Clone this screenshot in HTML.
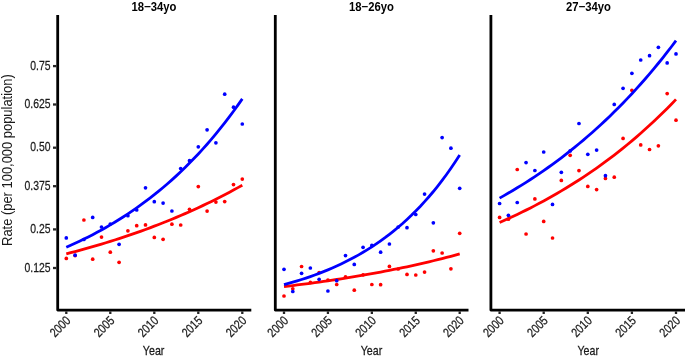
<!DOCTYPE html>
<html><head><meta charset="utf-8"><style>
html,body{margin:0;padding:0;background:#fff;width:685px;height:356px;overflow:hidden}
svg{display:block;will-change:transform}
.t{font-family:"Liberation Sans",sans-serif;font-size:12.7px;fill:#1a1a1a;stroke:#1a1a1a;stroke-width:0.25px}
.b{font-family:"Liberation Sans",sans-serif;font-size:13.2px;font-weight:bold;fill:#000}
</style></head><body>
<svg width="685" height="356" viewBox="0 0 685 356">
<path d="M57.7,15.0 V310.1 H251.3" fill="none" stroke="#000" stroke-width="2.8" stroke-linejoin="round"/>
<line x1="66.30" y1="311.40" x2="66.30" y2="314.00" stroke="#262626" stroke-width="2.3"/>
<text transform="translate(71.30,321.40) rotate(-45) scale(0.82,1)" text-anchor="end" class="t">2000</text>
<line x1="110.30" y1="311.40" x2="110.30" y2="314.00" stroke="#262626" stroke-width="2.3"/>
<text transform="translate(115.30,321.40) rotate(-45) scale(0.82,1)" text-anchor="end" class="t">2005</text>
<line x1="154.30" y1="311.40" x2="154.30" y2="314.00" stroke="#262626" stroke-width="2.3"/>
<text transform="translate(159.30,321.40) rotate(-45) scale(0.82,1)" text-anchor="end" class="t">2010</text>
<line x1="198.30" y1="311.40" x2="198.30" y2="314.00" stroke="#262626" stroke-width="2.3"/>
<text transform="translate(203.30,321.40) rotate(-45) scale(0.82,1)" text-anchor="end" class="t">2015</text>
<line x1="242.30" y1="311.40" x2="242.30" y2="314.00" stroke="#262626" stroke-width="2.3"/>
<text transform="translate(247.30,321.40) rotate(-45) scale(0.82,1)" text-anchor="end" class="t">2020</text>
<text transform="translate(154.00,10.75) scale(0.855,1)" text-anchor="middle" class="b">18<tspan style="font-weight:normal;stroke:#000;stroke-width:0.35px">−</tspan>34yo</text>
<text transform="translate(153.60,354.7) scale(0.84,1)" text-anchor="middle" class="t">Year</text>
<path d="M66.30,253.83 L70.70,252.69 L75.10,251.53 L79.50,250.34 L83.90,249.14 L88.30,247.90 L92.70,246.65 L97.10,245.36 L101.50,244.06 L105.90,242.72 L110.30,241.36 L114.70,239.98 L119.10,238.56 L123.50,237.12 L127.90,235.65 L132.30,234.15 L136.70,232.62 L141.10,231.06 L145.50,229.46 L149.90,227.84 L154.30,226.18 L158.70,224.49 L163.10,222.77 L167.50,221.01 L171.90,219.22 L176.30,217.39 L180.70,215.53 L185.10,213.63 L189.50,211.69 L193.90,209.71 L198.30,207.69 L202.70,205.64 L207.10,203.54 L211.50,201.40 L215.90,199.21 L220.30,196.99 L224.70,194.72 L229.10,192.40 L233.50,190.04 L237.90,187.63 L242.30,185.17" fill="none" stroke="#f00" stroke-width="2.8"/>
<circle cx="66.30" cy="258.40" r="1.85" fill="#f00"/>
<circle cx="75.10" cy="255.60" r="1.85" fill="#f00"/>
<circle cx="83.90" cy="220.00" r="1.85" fill="#f00"/>
<circle cx="92.70" cy="259.20" r="1.85" fill="#f00"/>
<circle cx="101.50" cy="237.10" r="1.85" fill="#f00"/>
<circle cx="110.30" cy="252.20" r="1.85" fill="#f00"/>
<circle cx="119.10" cy="262.30" r="1.85" fill="#f00"/>
<circle cx="127.90" cy="230.80" r="1.85" fill="#f00"/>
<circle cx="136.70" cy="225.70" r="1.85" fill="#f00"/>
<circle cx="145.50" cy="224.90" r="1.85" fill="#f00"/>
<circle cx="154.30" cy="237.40" r="1.85" fill="#f00"/>
<circle cx="163.10" cy="239.30" r="1.85" fill="#f00"/>
<circle cx="171.90" cy="224.20" r="1.85" fill="#f00"/>
<circle cx="180.70" cy="225.00" r="1.85" fill="#f00"/>
<circle cx="189.50" cy="209.30" r="1.85" fill="#f00"/>
<circle cx="198.30" cy="186.60" r="1.85" fill="#f00"/>
<circle cx="207.10" cy="211.10" r="1.85" fill="#f00"/>
<circle cx="215.90" cy="202.10" r="1.85" fill="#f00"/>
<circle cx="224.70" cy="201.60" r="1.85" fill="#f00"/>
<circle cx="233.50" cy="184.60" r="1.85" fill="#f00"/>
<circle cx="242.30" cy="179.10" r="1.85" fill="#f00"/>
<path d="M66.30,247.23 L70.70,245.28 L75.10,243.28 L79.50,241.21 L83.90,239.08 L88.30,236.89 L92.70,234.63 L97.10,232.30 L101.50,229.90 L105.90,227.43 L110.30,224.88 L114.70,222.25 L119.10,219.54 L123.50,216.75 L127.90,213.88 L132.30,210.92 L136.70,207.87 L141.10,204.72 L145.50,201.48 L149.90,198.14 L154.30,194.70 L158.70,191.15 L163.10,187.49 L167.50,183.73 L171.90,179.85 L176.30,175.85 L180.70,171.72 L185.10,167.48 L189.50,163.10 L193.90,158.59 L198.30,153.94 L202.70,149.15 L207.10,144.21 L211.50,139.13 L215.90,133.89 L220.30,128.48 L224.70,122.92 L229.10,117.18 L233.50,111.27 L237.90,105.18 L242.30,98.90" fill="none" stroke="#00f" stroke-width="2.8"/>
<circle cx="66.30" cy="237.90" r="1.85" fill="#00f"/>
<circle cx="75.10" cy="255.20" r="1.85" fill="#00f"/>
<circle cx="83.90" cy="239.50" r="1.85" fill="#00f"/>
<circle cx="92.70" cy="217.40" r="1.85" fill="#00f"/>
<circle cx="101.50" cy="227.00" r="1.85" fill="#00f"/>
<circle cx="110.30" cy="224.00" r="1.85" fill="#00f"/>
<circle cx="119.10" cy="244.30" r="1.85" fill="#00f"/>
<circle cx="127.90" cy="215.70" r="1.85" fill="#00f"/>
<circle cx="136.70" cy="210.00" r="1.85" fill="#00f"/>
<circle cx="145.50" cy="187.80" r="1.85" fill="#00f"/>
<circle cx="154.30" cy="201.70" r="1.85" fill="#00f"/>
<circle cx="163.10" cy="203.10" r="1.85" fill="#00f"/>
<circle cx="171.90" cy="211.00" r="1.85" fill="#00f"/>
<circle cx="180.70" cy="168.50" r="1.85" fill="#00f"/>
<circle cx="189.50" cy="160.70" r="1.85" fill="#00f"/>
<circle cx="198.30" cy="146.80" r="1.85" fill="#00f"/>
<circle cx="207.10" cy="129.80" r="1.85" fill="#00f"/>
<circle cx="215.90" cy="142.80" r="1.85" fill="#00f"/>
<circle cx="224.70" cy="94.20" r="1.85" fill="#00f"/>
<circle cx="233.50" cy="107.20" r="1.85" fill="#00f"/>
<circle cx="242.30" cy="124.00" r="1.85" fill="#00f"/>
<path d="M275.3,15.0 V310.1 H468.5" fill="none" stroke="#000" stroke-width="2.8" stroke-linejoin="round"/>
<line x1="284.00" y1="311.40" x2="284.00" y2="314.00" stroke="#262626" stroke-width="2.3"/>
<text transform="translate(289.00,321.40) rotate(-45) scale(0.82,1)" text-anchor="end" class="t">2000</text>
<line x1="327.93" y1="311.40" x2="327.93" y2="314.00" stroke="#262626" stroke-width="2.3"/>
<text transform="translate(332.93,321.40) rotate(-45) scale(0.82,1)" text-anchor="end" class="t">2005</text>
<line x1="371.85" y1="311.40" x2="371.85" y2="314.00" stroke="#262626" stroke-width="2.3"/>
<text transform="translate(376.85,321.40) rotate(-45) scale(0.82,1)" text-anchor="end" class="t">2010</text>
<line x1="415.77" y1="311.40" x2="415.77" y2="314.00" stroke="#262626" stroke-width="2.3"/>
<text transform="translate(420.77,321.40) rotate(-45) scale(0.82,1)" text-anchor="end" class="t">2015</text>
<line x1="459.70" y1="311.40" x2="459.70" y2="314.00" stroke="#262626" stroke-width="2.3"/>
<text transform="translate(464.70,321.40) rotate(-45) scale(0.82,1)" text-anchor="end" class="t">2020</text>
<text transform="translate(371.40,10.75) scale(0.855,1)" text-anchor="middle" class="b">18<tspan style="font-weight:normal;stroke:#000;stroke-width:0.35px">−</tspan>26yo</text>
<text transform="translate(371.50,354.7) scale(0.84,1)" text-anchor="middle" class="t">Year</text>
<path d="M284.00,286.58 L288.39,286.06 L292.79,285.52 L297.18,284.98 L301.57,284.42 L305.96,283.85 L310.36,283.27 L314.75,282.67 L319.14,282.06 L323.53,281.44 L327.93,280.81 L332.32,280.16 L336.71,279.50 L341.10,278.82 L345.50,278.13 L349.89,277.43 L354.28,276.71 L358.67,275.97 L363.06,275.22 L367.46,274.45 L371.85,273.67 L376.24,272.87 L380.63,272.05 L385.03,271.22 L389.42,270.36 L393.81,269.49 L398.20,268.60 L402.60,267.69 L406.99,266.76 L411.38,265.81 L415.77,264.84 L420.17,263.85 L424.56,262.84 L428.95,261.81 L433.35,260.75 L437.74,259.68 L442.13,258.58 L446.52,257.45 L450.91,256.30 L455.31,255.13 L459.70,253.93" fill="none" stroke="#f00" stroke-width="2.8"/>
<circle cx="284.00" cy="296.00" r="1.85" fill="#f00"/>
<circle cx="292.79" cy="288.80" r="1.85" fill="#f00"/>
<circle cx="301.57" cy="266.50" r="1.85" fill="#f00"/>
<circle cx="310.36" cy="282.40" r="1.85" fill="#f00"/>
<circle cx="319.14" cy="272.50" r="1.85" fill="#f00"/>
<circle cx="327.93" cy="280.20" r="1.85" fill="#f00"/>
<circle cx="336.71" cy="284.50" r="1.85" fill="#f00"/>
<circle cx="345.50" cy="276.80" r="1.85" fill="#f00"/>
<circle cx="354.28" cy="290.20" r="1.85" fill="#f00"/>
<circle cx="363.06" cy="274.80" r="1.85" fill="#f00"/>
<circle cx="371.85" cy="284.50" r="1.85" fill="#f00"/>
<circle cx="380.63" cy="284.70" r="1.85" fill="#f00"/>
<circle cx="389.42" cy="266.40" r="1.85" fill="#f00"/>
<circle cx="398.20" cy="269.00" r="1.85" fill="#f00"/>
<circle cx="406.99" cy="274.40" r="1.85" fill="#f00"/>
<circle cx="415.77" cy="275.00" r="1.85" fill="#f00"/>
<circle cx="424.56" cy="272.10" r="1.85" fill="#f00"/>
<circle cx="433.35" cy="250.80" r="1.85" fill="#f00"/>
<circle cx="442.13" cy="253.00" r="1.85" fill="#f00"/>
<circle cx="450.91" cy="268.80" r="1.85" fill="#f00"/>
<circle cx="459.70" cy="233.30" r="1.85" fill="#f00"/>
<path d="M284.00,284.61 L288.39,283.41 L292.79,282.16 L297.18,280.85 L301.57,279.48 L305.96,278.05 L310.36,276.55 L314.75,274.99 L319.14,273.35 L323.53,271.64 L327.93,269.85 L332.32,267.98 L336.71,266.03 L341.10,263.99 L345.50,261.85 L349.89,259.62 L354.28,257.29 L358.67,254.85 L363.06,252.30 L367.46,249.63 L371.85,246.84 L376.24,243.93 L380.63,240.88 L385.03,237.70 L389.42,234.37 L393.81,230.89 L398.20,227.25 L402.60,223.45 L406.99,219.47 L411.38,215.32 L415.77,210.97 L420.17,206.43 L424.56,201.68 L428.95,196.71 L433.35,191.52 L437.74,186.09 L442.13,180.42 L446.52,174.49 L450.91,168.29 L455.31,161.81 L459.70,155.03" fill="none" stroke="#00f" stroke-width="2.8"/>
<circle cx="284.00" cy="269.30" r="1.85" fill="#00f"/>
<circle cx="292.79" cy="291.50" r="1.85" fill="#00f"/>
<circle cx="301.57" cy="273.30" r="1.85" fill="#00f"/>
<circle cx="310.36" cy="268.00" r="1.85" fill="#00f"/>
<circle cx="319.14" cy="279.30" r="1.85" fill="#00f"/>
<circle cx="327.93" cy="291.00" r="1.85" fill="#00f"/>
<circle cx="336.71" cy="280.70" r="1.85" fill="#00f"/>
<circle cx="345.50" cy="255.60" r="1.85" fill="#00f"/>
<circle cx="354.28" cy="264.40" r="1.85" fill="#00f"/>
<circle cx="363.06" cy="247.30" r="1.85" fill="#00f"/>
<circle cx="371.85" cy="245.40" r="1.85" fill="#00f"/>
<circle cx="380.63" cy="252.20" r="1.85" fill="#00f"/>
<circle cx="389.42" cy="244.00" r="1.85" fill="#00f"/>
<circle cx="398.20" cy="227.00" r="1.85" fill="#00f"/>
<circle cx="406.99" cy="227.70" r="1.85" fill="#00f"/>
<circle cx="415.77" cy="214.50" r="1.85" fill="#00f"/>
<circle cx="424.56" cy="194.10" r="1.85" fill="#00f"/>
<circle cx="433.35" cy="222.80" r="1.85" fill="#00f"/>
<circle cx="442.13" cy="137.60" r="1.85" fill="#00f"/>
<circle cx="450.91" cy="148.20" r="1.85" fill="#00f"/>
<circle cx="459.70" cy="188.30" r="1.85" fill="#00f"/>
<path d="M490.9,15.0 V310.1 H685.5" fill="none" stroke="#000" stroke-width="2.8" stroke-linejoin="round"/>
<line x1="499.60" y1="311.40" x2="499.60" y2="314.00" stroke="#262626" stroke-width="2.3"/>
<text transform="translate(504.60,321.40) rotate(-45) scale(0.82,1)" text-anchor="end" class="t">2000</text>
<line x1="543.70" y1="311.40" x2="543.70" y2="314.00" stroke="#262626" stroke-width="2.3"/>
<text transform="translate(548.70,321.40) rotate(-45) scale(0.82,1)" text-anchor="end" class="t">2005</text>
<line x1="587.80" y1="311.40" x2="587.80" y2="314.00" stroke="#262626" stroke-width="2.3"/>
<text transform="translate(592.80,321.40) rotate(-45) scale(0.82,1)" text-anchor="end" class="t">2010</text>
<line x1="631.90" y1="311.40" x2="631.90" y2="314.00" stroke="#262626" stroke-width="2.3"/>
<text transform="translate(636.90,321.40) rotate(-45) scale(0.82,1)" text-anchor="end" class="t">2015</text>
<line x1="676.00" y1="311.40" x2="676.00" y2="314.00" stroke="#262626" stroke-width="2.3"/>
<text transform="translate(681.00,321.40) rotate(-45) scale(0.82,1)" text-anchor="end" class="t">2020</text>
<text transform="translate(588.50,10.75) scale(0.855,1)" text-anchor="middle" class="b">27<tspan style="font-weight:normal;stroke:#000;stroke-width:0.35px">−</tspan>34yo</text>
<text transform="translate(588.20,354.7) scale(0.84,1)" text-anchor="middle" class="t">Year</text>
<path d="M499.60,222.48 L504.01,220.53 L508.42,218.54 L512.83,216.50 L517.24,214.42 L521.65,212.29 L526.06,210.12 L530.47,207.90 L534.88,205.63 L539.29,203.30 L543.70,200.93 L548.11,198.51 L552.52,196.03 L556.93,193.50 L561.34,190.91 L565.75,188.26 L570.16,185.56 L574.57,182.79 L578.98,179.97 L583.39,177.08 L587.80,174.13 L592.21,171.12 L596.62,168.04 L601.03,164.89 L605.44,161.67 L609.85,158.38 L614.26,155.02 L618.67,151.58 L623.08,148.07 L627.49,144.48 L631.90,140.81 L636.31,137.06 L640.72,133.23 L645.13,129.31 L649.54,125.31 L653.95,121.22 L658.36,117.04 L662.77,112.76 L667.18,108.40 L671.59,103.93 L676.00,99.37" fill="none" stroke="#f00" stroke-width="2.8"/>
<circle cx="499.60" cy="217.40" r="1.85" fill="#f00"/>
<circle cx="508.42" cy="219.20" r="1.85" fill="#f00"/>
<circle cx="517.24" cy="169.50" r="1.85" fill="#f00"/>
<circle cx="526.06" cy="234.00" r="1.85" fill="#f00"/>
<circle cx="534.88" cy="198.90" r="1.85" fill="#f00"/>
<circle cx="543.70" cy="221.40" r="1.85" fill="#f00"/>
<circle cx="552.52" cy="238.00" r="1.85" fill="#f00"/>
<circle cx="561.34" cy="180.40" r="1.85" fill="#f00"/>
<circle cx="570.16" cy="155.30" r="1.85" fill="#f00"/>
<circle cx="578.98" cy="170.60" r="1.85" fill="#f00"/>
<circle cx="587.80" cy="186.40" r="1.85" fill="#f00"/>
<circle cx="596.62" cy="189.60" r="1.85" fill="#f00"/>
<circle cx="605.44" cy="178.40" r="1.85" fill="#f00"/>
<circle cx="614.26" cy="177.20" r="1.85" fill="#f00"/>
<circle cx="623.08" cy="138.40" r="1.85" fill="#f00"/>
<circle cx="631.90" cy="90.30" r="1.85" fill="#f00"/>
<circle cx="640.72" cy="144.90" r="1.85" fill="#f00"/>
<circle cx="649.54" cy="149.50" r="1.85" fill="#f00"/>
<circle cx="658.36" cy="145.80" r="1.85" fill="#f00"/>
<circle cx="667.18" cy="93.60" r="1.85" fill="#f00"/>
<circle cx="676.00" cy="120.20" r="1.85" fill="#f00"/>
<path d="M499.60,198.12 L504.01,195.63 L508.42,193.08 L512.83,190.48 L517.24,187.82 L521.65,185.10 L526.06,182.32 L530.47,179.48 L534.88,176.58 L539.29,173.61 L543.70,170.58 L548.11,167.48 L552.52,164.31 L556.93,161.07 L561.34,157.76 L565.75,154.38 L570.16,150.92 L574.57,147.39 L578.98,143.78 L583.39,140.08 L587.80,136.31 L592.21,132.45 L596.62,128.51 L601.03,124.48 L605.44,120.37 L609.85,116.16 L614.26,111.86 L618.67,107.46 L623.08,102.97 L627.49,98.38 L631.90,93.68 L636.31,88.89 L640.72,83.98 L645.13,78.97 L649.54,73.85 L653.95,68.61 L658.36,63.26 L662.77,57.79 L667.18,52.20 L671.59,46.49 L676.00,40.65" fill="none" stroke="#00f" stroke-width="2.8"/>
<circle cx="499.60" cy="203.50" r="1.85" fill="#00f"/>
<circle cx="508.42" cy="215.30" r="1.85" fill="#00f"/>
<circle cx="517.24" cy="202.50" r="1.85" fill="#00f"/>
<circle cx="526.06" cy="162.60" r="1.85" fill="#00f"/>
<circle cx="534.88" cy="170.50" r="1.85" fill="#00f"/>
<circle cx="543.70" cy="152.00" r="1.85" fill="#00f"/>
<circle cx="552.52" cy="204.40" r="1.85" fill="#00f"/>
<circle cx="561.34" cy="172.30" r="1.85" fill="#00f"/>
<circle cx="570.16" cy="150.90" r="1.85" fill="#00f"/>
<circle cx="578.98" cy="123.50" r="1.85" fill="#00f"/>
<circle cx="587.80" cy="154.30" r="1.85" fill="#00f"/>
<circle cx="596.62" cy="150.10" r="1.85" fill="#00f"/>
<circle cx="605.44" cy="175.70" r="1.85" fill="#00f"/>
<circle cx="614.26" cy="104.40" r="1.85" fill="#00f"/>
<circle cx="623.08" cy="88.30" r="1.85" fill="#00f"/>
<circle cx="631.90" cy="73.30" r="1.85" fill="#00f"/>
<circle cx="640.72" cy="60.00" r="1.85" fill="#00f"/>
<circle cx="649.54" cy="55.70" r="1.85" fill="#00f"/>
<circle cx="658.36" cy="47.30" r="1.85" fill="#00f"/>
<circle cx="667.18" cy="62.90" r="1.85" fill="#00f"/>
<circle cx="676.00" cy="53.90" r="1.85" fill="#00f"/>
<line x1="53.0" y1="66.1" x2="56.40" y2="66.1" stroke="#262626" stroke-width="2.3"/>
<text transform="translate(50.6,69.80) scale(0.82,1)" text-anchor="end" class="t">0.75</text>
<line x1="53.0" y1="104.5" x2="56.40" y2="104.5" stroke="#262626" stroke-width="2.3"/>
<text transform="translate(50.6,108.20) scale(0.82,1)" text-anchor="end" class="t">0.625</text>
<line x1="53.0" y1="147.7" x2="56.40" y2="147.7" stroke="#262626" stroke-width="2.3"/>
<text transform="translate(50.6,151.40) scale(0.82,1)" text-anchor="end" class="t">0.50</text>
<line x1="53.0" y1="186.2" x2="56.40" y2="186.2" stroke="#262626" stroke-width="2.3"/>
<text transform="translate(50.6,189.90) scale(0.82,1)" text-anchor="end" class="t">0.375</text>
<line x1="53.0" y1="229.4" x2="56.40" y2="229.4" stroke="#262626" stroke-width="2.3"/>
<text transform="translate(50.6,233.10) scale(0.82,1)" text-anchor="end" class="t">0.25</text>
<line x1="53.0" y1="268.0" x2="56.40" y2="268.0" stroke="#262626" stroke-width="2.3"/>
<text transform="translate(50.6,271.70) scale(0.82,1)" text-anchor="end" class="t">0.125</text>
<text transform="translate(11.9,160.1) rotate(-90) scale(0.88,1)" text-anchor="middle" class="t" style="font-size:14.7px;stroke:none">Rate (per 100,000 population)</text>
</svg>
</body></html>
